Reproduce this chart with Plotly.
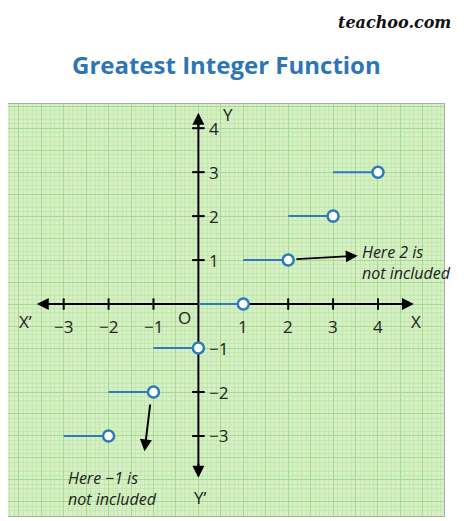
import plotly.graph_objs as go

# Greatest integer function: y = [x] on [n, n+1)
steps = [-3, -2, -1, 0, 1, 2, 3]
x_ticks = [-3, -2, -1, 1, 2, 3, 4]
x_tick_labels = ['\u22123', '\u22122', '\u22121', '1', '2', '3', '4']
y_ticks = [-3, -2, -1, 1, 2, 3, 4]
y_tick_labels = ['\u22123', '\u22122', '\u22121', '1', '2', '3', '4']

blue = '#2b7bba'
data = []
for n in steps:
    data.append(go.Scatter(x=[n, n + 1], y=[n, n], mode='lines',
                           line=dict(color=blue, width=2), showlegend=False, hoverinfo='skip'))
data.append(go.Scatter(x=[n + 1 for n in steps], y=steps, mode='markers',
                       marker=dict(size=11, color='white', line=dict(color=blue, width=2.5)),
                       showlegend=False, hoverinfo='skip'))

shapes = [
    dict(type='line', xref='x', yref='y', x0=-3.55, x1=4.75, y0=0, y1=0,
         line=dict(color='black', width=2), layer='between'),
    dict(type='line', xref='x', yref='y', x0=0, x1=0, y0=-3.9, y1=4.3,
         line=dict(color='black', width=2), layer='between'),
]
for t in x_ticks:
    shapes.append(dict(type='line', xref='x', yref='y', x0=t, x1=t, y0=-0.13, y1=0.13,
                       line=dict(color='black', width=2), layer='between'))
for t in y_ticks:
    shapes.append(dict(type='line', xref='x', yref='y', x0=-0.14, x1=0.14, y0=t, y1=t,
                       line=dict(color='black', width=2), layer='between'))

def arrow(x0, y0, x1, y1):
    return dict(x=x1, y=y1, ax=x0, ay=y0, xref='x', yref='y', axref='x', ayref='y',
                text='', showarrow=True, arrowhead=2, arrowsize=1.2, arrowwidth=2,
                arrowcolor='black')

annotations = [
    arrow(4.5, 0, 4.8, 0), arrow(-3.3, 0, -3.6, 0),
    arrow(0, 4.0, 0, 4.35), arrow(0, -3.6, 0, -3.95),
    arrow(2.15, 1.02, 3.55, 1.1),
    arrow(-1.07, -2.25, -1.2, -3.35),
]

for t, lab in zip(x_ticks, x_tick_labels):
    annotations.append(dict(x=t, y=-0.5, xref='x', yref='y', text=lab, showarrow=False,
                            font=dict(size=17, color='#222')))
for t, lab in zip(y_ticks, y_tick_labels):
    annotations.append(dict(x=0.2, y=t, xref='x', yref='y', text=lab, showarrow=False,
                            xanchor='left', font=dict(size=17, color='#222')))

labels = [("X\u2019", -3.85, -0.4), ("X", 4.85, -0.4), ("O", -0.3, -0.3),
          ("Y", 0.65, 4.3), ("Y\u2019", 0.05, -4.4)]
for txt, x, y in labels:
    annotations.append(dict(x=x, y=y, xref='x', yref='y', text=txt, showarrow=False,
                            font=dict(size=17, color='#222')))

annotations.append(dict(x=3.6, y=0.95, xref='x', yref='y', xanchor='left', align='left',
                        text='<i>Here 2 is<br>not included</i>', showarrow=False,
                        font=dict(size=16, color='#222')))
annotations.append(dict(x=-2.95, y=-4.2, xref='x', yref='y', xanchor='left', align='left',
                        text='<i>Here \u22121 is<br>not included</i>', showarrow=False,
                        font=dict(size=16, color='#222')))

# paper-level texts: positions given in pixels from page top, converted to paper units
top, plot_h = 96, 412
annotations.append(dict(x=0.5, y=1 + (top - 57) / plot_h, xref='paper', yref='paper',
                        yanchor='middle', text='<b>Greatest Integer Function</b>',
                        showarrow=False, font=dict(size=24, color='#2e75b6')))
annotations.append(dict(x=1.02, y=1 + (top - 14) / plot_h, xref='paper', yref='paper',
                        xanchor='right', yanchor='middle', text='<b><i>teachoo.com</i></b>',
                        showarrow=False, font=dict(size=16, color='#111', family='DejaVu Serif')))

layout = go.Layout(
    width=466, height=513, margin=dict(l=0, r=30, t=top, b=5),
    paper_bgcolor='white', plot_bgcolor='#d6f0c4',
    font=dict(family='Open Sans'),
    xaxis=dict(range=[-4.24, 5.47], showticklabels=False, zeroline=False, ticks='',
               showgrid=True, dtick=0.5, tick0=0, gridcolor='#a3db90', gridwidth=1,
               minor=dict(dtick=0.1, showgrid=True, gridcolor='#c4e8b2', gridwidth=0.5),
               showline=True, linecolor='#aaaaaa', mirror=True, fixedrange=True),
    yaxis=dict(range=[-4.82, 4.55], showticklabels=False, zeroline=False, ticks='',
               showgrid=True, dtick=0.5, tick0=0, gridcolor='#a3db90', gridwidth=1,
               minor=dict(dtick=0.1, showgrid=True, gridcolor='#c4e8b2', gridwidth=0.5),
               showline=True, linecolor='#aaaaaa', mirror=True, fixedrange=True),
    shapes=shapes, annotations=annotations,
)

fig = go.Figure(data=data, layout=layout)
fig.write_html("out.html")
